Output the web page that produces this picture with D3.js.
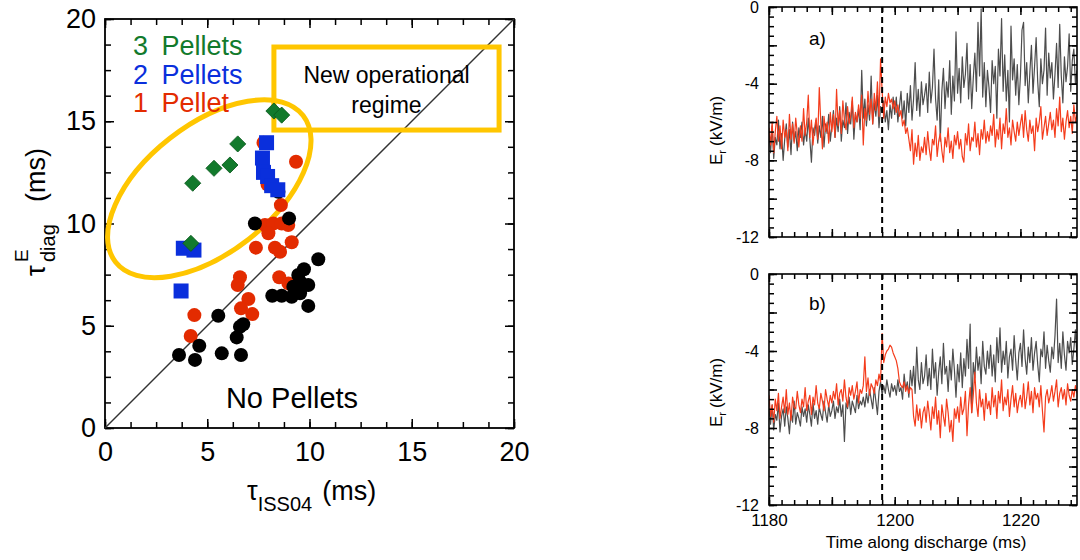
<!DOCTYPE html>
<html><head><meta charset="utf-8">
<script src="https://cdn.jsdelivr.net/npm/d3@7"></script>
<style>
body{margin:0;background:#fff}
svg{display:block}
text{font-family:"Liberation Sans",Arial,Helvetica,sans-serif}
</style>
</head><body>
<svg id="c" width="1080" height="560"></svg>
<script>
// ---------------- scatter data (tau_ISS04, tau_E_diag) ----------------
const noPellets = [[8.48,11.55],[9.0,10.25],[7.33,10.0],[10.43,8.25],[9.73,7.76],[9.45,7.48],[9.54,7.15],[9.94,6.99],[9.21,6.91],[8.18,6.47],[8.64,6.47],[9.13,6.42],[9.54,6.59],[9.94,5.97],[5.54,5.49],[6.76,5.07],[6.6,4.95],[6.44,4.43],[4.61,4.02],[3.62,3.57],[4.4,3.33],[5.71,3.65],[6.65,3.57]];
const onePellet = [[7.75,13.95],[9.34,13.02],[7.95,11.9],[8.6,10.9],[7.82,9.93],[8.23,10.0],[8.64,10.0],[8.96,9.93],[7.99,9.52],[7.38,8.82],[8.31,8.82],[8.56,8.62],[9.13,9.08],[6.6,7.37],[6.49,6.99],[8.52,7.37],[8.97,7.07],[7.01,6.31],[6.65,5.85],[7.2,5.57],[4.37,5.52],[4.19,4.5]];
const twoPellets = [[7.9,13.95],[7.7,13.2],[7.75,12.5],[7.95,12.3],[8.15,11.85],[8.45,11.65],[3.83,8.79],[4.35,8.7],[3.72,6.7]];
const threePellets = [[4.29,11.97],[5.33,12.7],[6.11,12.86],[6.49,13.89],[8.26,15.5],[8.64,15.3],[4.2,9.03]];
const scatterTicks = [0,5,10,15,20];
const legendLabels = [["3","Pellets","#127a2c"],["2","Pellets","#0a2fdc"],["1","Pellet","#e32b00"]];

// ---------------- time traces E_r (kV/m), sampled every 0.25 ms from 1180 ms ----------------
const tStart = 1180, tStep = 0.25;
const grayA = [-6.5,-7.6,-6.2,-7.9,-6.8,-7.2,-5.9,-7.4,-6.6,-8.0,-6.9,-6.1,-7.3,-6.4,-7.7,-6.0,-7.0,-6.5,-7.5,-6.3,
-6.8,-6.0,-7.2,-6.4,-7.0,-5.8,-6.9,-8.1,-6.3,-6.7,-5.9,-7.1,-6.2,-6.8,-5.7,-7.3,-6.1,-6.6,-5.6,-7.0,
-6.2,-5.4,-6.8,-5.8,-6.5,-5.2,-7.0,-5.9,-6.3,-5.0,-6.6,-5.5,-6.1,-4.9,-6.9,-5.6,-6.0,-5.3,-6.4,-3.3,
-5.8,-4.8,-6.2,-5.1,-5.9,-3.6,-6.1,-5.0,-5.7,-4.6,-6.3,-5.2,-5.5,-4.9,-6.0,-5.4,-6.4,-5.1,-5.8,-4.7,
-5.6,-4.7,-6.0,-5.2,-4.4,-5.8,-4.9,-6.2,-4.5,-5.5,-4.1,-5.9,-4.8,-2.9,-5.4,-4.3,-5.7,-3.9,-5.1,-4.6,
-4.0,-5.5,-3.4,-5.0,-4.2,-2.2,-4.8,-5.9,-3.8,-7.0,-4.4,-3.2,-5.3,-3.9,-4.7,-2.8,-5.6,-3.6,-4.9,-1.3,
-4.5,-3.2,-5.0,-2.6,-4.2,-3.5,-1.9,-4.8,-3.0,-5.3,-3.7,-2.4,-4.4,-0.8,-3.6,-0.1,-4.7,-2.9,-5.2,-3.3,
-4.2,-5.5,-2.8,-4.0,-3.1,-5.8,-2.2,-3.6,-0.6,-4.4,-2.5,-4.9,-3.3,-6.0,-1.0,-3.8,-2.7,-4.6,-3.0,-5.1,
-3.6,-1.2,-0.8,-4.1,-2.9,-5.0,-3.4,-2.0,-4.5,-3.1,-1.6,-3.9,-5.2,-2.7,-4.0,-3.3,-1.1,-4.6,-2.4,-3.7,
-2.9,-4.8,-3.5,-1.9,-4.2,-0.9,-3.6,-5.0,-2.6,-3.9,-3.1,-1.4,-4.4,-2.8,-2.2,-4.0,-3.3];
const redA = [-6.3,-7.2,-6.0,-7.6,-6.5,-5.7,-7.0,-6.2,-7.4,-5.9,-6.8,-6.4,-7.5,-5.6,-6.9,-6.1,-7.1,-5.8,-6.6,-7.3,
-6.2,-7.0,-5.3,-6.7,-6.0,-4.6,-6.8,-5.9,-7.2,-6.3,-5.8,-6.9,-4.2,-6.1,-7.4,-5.7,-6.5,-6.0,-7.1,-5.5,
-6.5,-5.6,-6.8,-4.3,-6.2,-5.4,-6.6,-4.9,-5.9,-6.4,-5.2,-6.1,-5.7,-4.7,-6.3,-5.5,-6.0,-5.1,-5.8,-4.6,
-7.2,-5.3,-5.9,-4.4,-5.6,-4.8,-6.1,-4.5,-5.4,-3.9,-5.7,-2.7,-4.4,-5.8,-4.7,-5.2,-4.5,-5.0,-4.8,-5.3,
-4.9,-5.5,-5.1,-5.7,-5.4,-6.2,-5.9,-6.6,-6.3,-6.9,-7.5,-6.4,-8.2,-7.1,-7.8,-6.7,-8.0,-7.3,-7.6,-6.8,
-7.7,-6.5,-7.4,-8.0,-6.9,-7.2,-6.2,-7.8,-7.0,-6.6,-7.5,-8.1,-6.8,-7.3,-6.3,-7.6,-7.0,-7.9,-6.7,-7.2,
-6.5,-7.4,-6.9,-7.8,-8.1,-6.6,-7.2,-6.1,-7.5,-6.8,-7.0,-6.0,-7.3,-6.6,-7.7,-6.4,-6.9,-5.9,-7.1,-6.5,
-7.0,-6.2,-6.7,-5.6,-7.3,-6.4,-6.9,-5.8,-7.4,-6.1,-6.6,-5.3,-6.8,-6.3,-7.2,-5.9,-6.5,-7.0,-6.0,-6.7,
-6.1,-5.6,-6.8,-5.4,-6.4,-7.0,-5.9,-6.6,-6.2,-7.5,-5.8,-6.5,-6.0,-5.2,-6.9,-6.3,-5.7,-6.7,-6.1,-5.5,
-6.4,-5.9,-6.8,-5.3,-6.2,-4.7,-6.5,-5.8,-6.9,-6.0,-5.4,-6.3,-5.7,-6.6,-5.1,-6.0,-5.6];
const grayB = [-7.0,-7.8,-6.8,-8.1,-7.3,-7.6,-6.7,-8.2,-7.4,-7.0,-7.9,-6.9,-7.5,-8.3,-7.1,-7.7,-6.6,-7.8,-7.2,-7.5,
-7.9,-6.9,-7.4,-7.0,-7.7,-6.8,-7.3,-7.9,-6.7,-7.5,-7.1,-7.8,-6.9,-7.3,-7.6,-6.6,-7.2,-7.7,-6.8,-7.4,
-7.1,-6.6,-7.5,-6.9,-7.2,-6.5,-7.4,-6.8,-8.7,-6.7,-7.0,-6.4,-7.3,-6.6,-6.9,-7.2,-6.3,-7.0,-6.6,-6.8,
-6.4,-6.9,-6.2,-6.7,-6.0,-6.5,-7.0,-5.9,-6.6,-7.3,-6.1,-5.6,-6.3,-5.8,-6.2,-5.5,-6.0,-6.4,-5.7,-6.1,
-5.8,-6.3,-5.5,-6.1,-5.9,-6.5,-5.2,-6.0,-5.6,-6.4,-5.0,-5.8,-4.8,-6.2,-3.8,-5.5,-6.0,-4.6,-5.7,-5.3,
-4.2,-5.8,-4.9,-6.0,-3.9,-5.4,-4.6,-6.3,-5.1,-4.3,-5.7,-3.6,-5.2,-4.8,-6.1,-4.5,-5.5,-3.9,-5.0,-6.4,
-4.7,-5.6,-4.1,-5.9,-4.4,-5.3,-3.4,-4.9,-2.6,-7.2,-4.6,-5.4,-3.8,-5.0,-4.3,-5.7,-3.5,-4.8,-5.2,-4.0,
-4.9,-3.7,-5.3,-4.2,-5.6,-3.3,-4.6,-2.8,-5.1,-4.0,-4.7,-3.5,-5.4,-4.3,-3.9,-5.0,-3.2,-4.5,-5.5,-4.1,
-3.6,-4.8,-2.9,-4.4,-5.2,-3.8,-4.6,-3.3,-5.0,-4.1,-3.5,-4.7,-5.6,-3.9,-4.3,-3.0,-4.9,-3.7,-4.5,-5.1,
-3.8,-4.4,-3.2,-1.3,-4.6,-3.6,-4.9,-3.0,-4.2,-5.0,-3.5,-4.1,-3.3,-4.7,-3.9,-2.9,-4.3];
const redB = [-6.3,-7.4,-6.8,-7.7,-6.5,-7.1,-6.2,-7.5,-6.9,-6.4,-7.2,-6.0,-7.3,-6.7,-7.6,-6.4,-6.9,-7.0,-6.1,-6.8,
-7.2,-6.5,-6.9,-5.9,-7.1,-6.6,-6.3,-7.3,-6.4,-6.8,-5.8,-6.7,-7.0,-6.2,-6.6,-7.1,-6.0,-6.5,-6.9,-6.3,
-6.7,-6.1,-6.5,-5.7,-6.8,-6.2,-6.0,-6.6,-5.5,-6.4,-6.9,-5.9,-6.3,-5.8,-6.5,-6.1,-5.6,-6.7,-6.0,-6.2,
-5.8,-4.3,-6.1,-5.4,-6.3,-5.7,-5.9,-6.2,-5.5,-5.8,-5.2,-5.6,-3.1,-4.6,-4.2,-4.0,-3.9,-3.7,-3.8,-4.1,
-4.3,-4.5,-4.9,-5.6,-5.8,-5.9,-5.6,-6.1,-5.8,-6.2,-5.9,-6.0,-7.4,-7.9,-6.8,-7.6,-7.0,-8.0,-7.2,-6.9,
-7.7,-6.6,-7.3,-8.1,-6.9,-7.5,-6.4,-7.8,-7.1,-8.5,-6.8,-7.4,-7.9,-6.5,-7.2,-8.2,-7.6,-8.7,-7.0,-7.5,
-6.9,-7.7,-6.4,-7.3,-7.0,-6.1,-8.4,-6.8,-5.9,-7.2,-6.3,-5.1,-6.7,-7.4,-6.0,-6.9,-6.5,-7.6,-6.2,-7.0,
-6.6,-7.3,-5.9,-6.9,-6.3,-7.5,-6.1,-6.7,-5.5,-7.1,-6.4,-6.8,-6.0,-7.4,-6.5,-5.8,-6.9,-6.2,-7.2,-6.6,
-6.3,-6.9,-5.7,-7.0,-6.4,-5.6,-6.8,-6.1,-7.2,-5.9,-6.5,-6.2,-6.9,-5.8,-7.1,-8.2,-6.4,-6.0,-6.7,-6.3,
-5.8,-6.6,-6.1,-5.5,-6.9,-6.2,-5.9,-6.5,-6.0,-6.8,-5.7,-6.3,-6.6,-6.0,-6.4,-5.8,-6.2];
const pelletTime = 1198;
const timeLabels = [1180,1200,1220];
const erLabels = [-12,-8,-4,0];

const FONT = '"Liberation Sans",Arial,Helvetica,sans-serif';
const svg = d3.select("#c");

// ================= LEFT SCATTER =================
const sx = d3.scaleLinear().domain([0,20]).range([105,514]);
const sy = d3.scaleLinear().domain([0,20]).range([428,19]);
const YEL = "#ffc600";
const minor = d3.range(0,20.001,1.25);

function styleAxis(g, fs){
  g.select(".domain").remove();
  g.selectAll("line").attr("stroke","#000").attr("stroke-width",1.5);
  g.selectAll("text").attr("font-family",FONT).attr("font-size",fs).attr("fill","#000");
}
const sc = svg.append("g");
sc.append("g").attr("transform","translate(0,428)").call(d3.axisBottom(sx).tickValues(minor).tickSize(-6).tickFormat("")).call(styleAxis,27);
sc.append("g").attr("transform","translate(0,19)").call(d3.axisTop(sx).tickValues(minor).tickSize(-6).tickFormat("")).call(styleAxis,27);
sc.append("g").attr("transform","translate(105,0)").call(d3.axisLeft(sy).tickValues(minor).tickSize(-6).tickFormat("")).call(styleAxis,27);
sc.append("g").attr("transform","translate(514,0)").call(d3.axisRight(sy).tickValues(minor).tickSize(-6).tickFormat("")).call(styleAxis,27);
sc.append("g").attr("transform","translate(0,428)").call(d3.axisBottom(sx).tickValues(scatterTicks).tickSize(-9).tickPadding(14).tickFormat(d=>String(d))).call(styleAxis,27);
sc.append("g").attr("transform","translate(0,19)").call(d3.axisTop(sx).tickValues(scatterTicks).tickSize(-9).tickFormat("")).call(styleAxis,27);
sc.append("g").attr("transform","translate(105,0)").call(d3.axisLeft(sy).tickValues(scatterTicks).tickSize(-9).tickPadding(9).tickFormat(d=>String(d))).call(styleAxis,27);
sc.append("g").attr("transform","translate(514,0)").call(d3.axisRight(sy).tickValues(scatterTicks).tickSize(-9).tickFormat("")).call(styleAxis,27);
sc.append("rect").attr("x",sx(0)).attr("y",sy(20)).attr("width",sx(20)-sx(0)).attr("height",sy(0)-sy(20))
  .attr("fill","none").attr("stroke","#000").attr("stroke-width",1.8);

sc.append("line").attr("x1",sx(0)).attr("y1",sy(0)).attr("x2",sx(20)).attr("y2",sy(20)).attr("stroke","#333").attr("stroke-width",1.5);

const ell = {cx:5.1, cy:11.7, rx:5.82, ry:3.13, rot:38};
sc.append("ellipse").attr("cx",sx(ell.cx)).attr("cy",sy(ell.cy))
  .attr("rx",sx(ell.rx)-sx(0)).attr("ry",sx(ell.ry)-sx(0))
  .attr("transform",`rotate(${-ell.rot},${sx(ell.cx)},${sy(ell.cy)})`)
  .attr("fill","none").attr("stroke",YEL).attr("stroke-width",5);
const box = {x0:8.26, x1:19.27, y0:14.57, y1:18.63};
sc.append("rect").attr("x",sx(box.x0)).attr("y",sy(box.y1)).attr("width",sx(box.x1)-sx(box.x0)).attr("height",sy(box.y0)-sy(box.y1))
  .attr("fill","none").attr("stroke",YEL).attr("stroke-width",5);
const bcx = (sx(box.x0)+sx(box.x1))/2;
sc.append("text").attr("x",bcx).attr("y",83).attr("text-anchor","middle").attr("font-family",'"Open Sans",sans-serif').attr("font-size",23).text("New operational");
sc.append("text").attr("x",bcx).attr("y",113).attr("text-anchor","middle").attr("font-family",'"Open Sans",sans-serif').attr("font-size",23).text("regime");

sc.append("g").selectAll("circle").data(onePellet).join("circle")
  .attr("cx",d=>sx(d[0])).attr("cy",d=>sy(d[1])).attr("r",7).attr("fill","#e32b00");
sc.append("g").selectAll("circle").data(noPellets).join("circle")
  .attr("cx",d=>sx(d[0])).attr("cy",d=>sy(d[1])).attr("r",7).attr("fill","#000");
sc.append("g").selectAll("rect").data(twoPellets).join("rect")
  .attr("x",d=>sx(d[0])-7.5).attr("y",d=>sy(d[1])-7.5).attr("width",15).attr("height",15).attr("fill","#0a2fdc");
sc.append("g").selectAll("path").data(threePellets).join("path")
  .attr("d",d3.symbol(d3.symbolSquare, 130))
  .attr("transform",d=>`translate(${sx(d[0])},${sy(d[1])}) rotate(45)`)
  .attr("fill","#127a2c").attr("stroke","#0b5a1e").attr("stroke-width",0.8);

legendLabels.forEach((l,i)=>{
  const yb = 55 + i*28.5;
  sc.append("text").attr("x",133).attr("y",yb).attr("font-size",27).attr("fill",l[2]).text(l[0]);
  sc.append("text").attr("x",161.5).attr("y",yb).attr("font-size",27).attr("fill",l[2]).text(l[1]);
});
sc.append("text").attr("x",292).attr("y",408).attr("text-anchor","middle").attr("font-size",29).text("No Pellets");

const xt = sc.append("text").attr("x",247).attr("y",500).attr("font-size",27);
xt.append("tspan").text("τ");
xt.append("tspan").attr("font-size",20).attr("dy",11).text("ISS04");
xt.append("tspan").attr("dy",-11).attr("dx",10).text("(ms)");
const yt = sc.append("g").attr("transform","translate(45,276) rotate(-90)");
yt.append("text").attr("x",0).attr("y",0).attr("font-size",27).text("τ");
yt.append("text").attr("x",14).attr("y",-17).attr("font-size",19).text("E");
yt.append("text").attr("x",14).attr("y",10).attr("font-size",20).text("diag");
yt.append("text").attr("x",74).attr("y",0).attr("font-size",27).text("(ms)");

// ================= RIGHT TIME PANELS =================
const tx = d3.scaleLinear().domain([1180,1229]).range([769,1077]);
svg.append("defs").append("clipPath").attr("id","clipR").append("rect").attr("x",769).attr("y",0).attr("width",308).attr("height",560);

function panel(top, bottom, gray, red, lab, labY, titleStart, showX){
  const y = d3.scaleLinear().domain([-12,0]).range([bottom, top]);
  const g = svg.append("g");
  const line = d3.line().x((d,i)=>tx(tStart+i*tStep)).y(d=>y(d));
  const tr = g.append("g").attr("clip-path","url(#clipR)");
  tr.append("path").attr("d",line(gray)).attr("fill","none").attr("stroke","#4d4d4d").attr("stroke-width",1.2).attr("stroke-linejoin","round");
  tr.append("path").attr("d",line(red)).attr("fill","none").attr("stroke","#f43c1c").attr("stroke-width",1.2).attr("stroke-linejoin","round");
  g.append("line").attr("x1",tx(pelletTime)).attr("x2",tx(pelletTime)).attr("y1",y(0)).attr("y2",y(-12))
    .attr("stroke","#000").attr("stroke-width",2).attr("stroke-dasharray","6,4");
  const yMin = d3.range(-12,0.001,0.5), yMaj = d3.range(-12,0.001,2);
  const xMin = d3.range(1180,1229,2), xMaj = d3.range(1180,1229,10);
  g.append("g").attr("transform",`translate(769,0)`).call(d3.axisLeft(y).tickValues(yMin).tickSize(-5).tickFormat("")).call(styleAxis,16);
  g.append("g").attr("transform",`translate(1077,0)`).call(d3.axisRight(y).tickValues(yMin).tickSize(-5).tickFormat("")).call(styleAxis,16);
  g.append("g").attr("transform",`translate(769,0)`).call(d3.axisLeft(y).tickValues(yMaj).tickSize(-8).tickPadding(10).tickFormat(d=>erLabels.includes(d)?String(d):"")).call(styleAxis,16);
  g.append("g").attr("transform",`translate(1077,0)`).call(d3.axisRight(y).tickValues(yMaj).tickSize(-8).tickFormat("")).call(styleAxis,16);
  g.append("g").attr("transform",`translate(0,${bottom})`).call(d3.axisBottom(tx).tickValues(xMin).tickSize(-5).tickFormat("")).call(styleAxis,17);
  g.append("g").attr("transform",`translate(0,${top})`).call(d3.axisTop(tx).tickValues(xMin).tickSize(-5).tickFormat("")).call(styleAxis,17);
  g.append("g").attr("transform",`translate(0,${bottom})`).call(d3.axisBottom(tx).tickValues(xMaj).tickSize(-8).tickPadding(9)
    .tickFormat(d=>showX && timeLabels.includes(d)?String(d):"")).call(styleAxis,17);
  g.append("g").attr("transform",`translate(0,${top})`).call(d3.axisTop(tx).tickValues(xMaj).tickSize(-8).tickFormat("")).call(styleAxis,17);
  g.append("rect").attr("x",769).attr("y",top).attr("width",308).attr("height",bottom-top)
    .attr("fill","none").attr("stroke","#000").attr("stroke-width",1.6);
  g.append("text").attr("x",809).attr("y",labY).attr("font-size",19).text(lab);
  const t = g.append("text").attr("font-size",17).attr("transform",`translate(722,${titleStart}) rotate(-90)`);
  t.append("tspan").text("E");
  t.append("tspan").attr("font-size",11).attr("dy",4).text("r");
  t.append("tspan").attr("dy",-4).attr("dx",4).text("(kV/m)");
}
panel(7, 237, grayA, redA, "a)", 45, 165, false);
panel(274, 505, grayB, redB, "b)", 310, 427, true);
svg.append("text").attr("x",926).attr("y",548).attr("text-anchor","middle").attr("font-size",17).text("Time along discharge (ms)");
</script>
</body></html>
